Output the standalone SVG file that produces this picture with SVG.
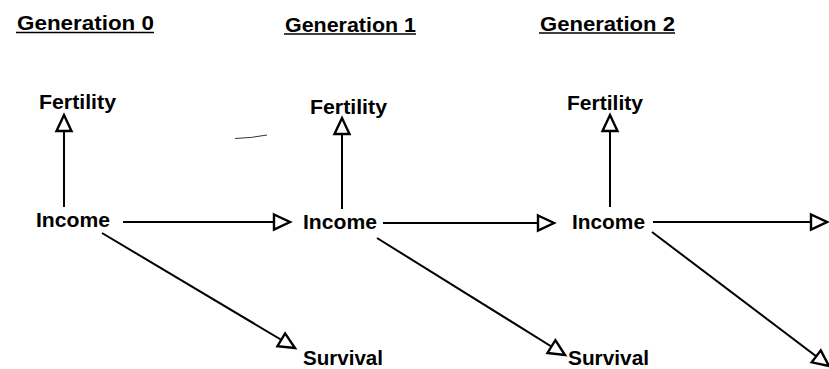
<svg xmlns="http://www.w3.org/2000/svg" width="829" height="369" viewBox="0 0 829 369">
<style>
text{font-family:"Liberation Sans",Arial,sans-serif;font-weight:bold;fill:#000}
.h{font-size:21px}
.n{font-size:20px}
.ul{stroke:#000;stroke-width:1.6}
.c{stroke:#000;stroke-width:2;fill:none}
</style>
<defs>
<marker id="ah" markerUnits="userSpaceOnUse" markerWidth="24" markerHeight="24" refX="19" refY="10" orient="auto">
<path d="M3,2.5 L19,10 L3,17.5 Z" fill="#fff" stroke="#000" stroke-width="2.4" stroke-linejoin="miter"/>
</marker>
</defs>
<rect width="829" height="369" fill="#fff"/>
<g id="headings">
<g id="gen0"><text class="h" x="17" y="30" textLength="137" lengthAdjust="spacingAndGlyphs">Generation 0</text><line class="ul" x1="16" y1="32.5" x2="154" y2="32.5"/></g>
<g id="gen1"><text class="h" x="285" y="31.5" textLength="131" lengthAdjust="spacingAndGlyphs">Generation 1</text><line class="ul" x1="284" y1="34" x2="416" y2="34"/></g>
<g id="gen2"><text class="h" x="540" y="31" textLength="135" lengthAdjust="spacingAndGlyphs">Generation 2</text><line class="ul" x1="539" y1="33" x2="675" y2="33"/></g>
</g>
<g id="fertility0"><text class="n" x="39" y="109" textLength="77" lengthAdjust="spacingAndGlyphs">Fertility</text></g>
<g id="fertility1"><text class="n" x="310" y="114" textLength="77" lengthAdjust="spacingAndGlyphs">Fertility</text></g>
<g id="fertility2"><text class="n" x="567" y="110" textLength="76" lengthAdjust="spacingAndGlyphs">Fertility</text></g>
<g id="income0"><text class="n" x="36" y="227" textLength="74" lengthAdjust="spacingAndGlyphs">Income</text></g>
<g id="income1"><text class="n" x="303" y="229" textLength="74" lengthAdjust="spacingAndGlyphs">Income</text></g>
<g id="income2"><text class="n" x="572" y="229" textLength="73" lengthAdjust="spacingAndGlyphs">Income</text></g>
<g id="survival0"><text class="n" x="303" y="365" textLength="80" lengthAdjust="spacingAndGlyphs">Survival</text></g>
<g id="survival1"><text class="n" x="568" y="365" textLength="81" lengthAdjust="spacingAndGlyphs">Survival</text></g>
<g id="connectors">
<line class="c" x1="64" y1="207" x2="64" y2="115" marker-end="url(#ah)"/>
<line class="c" x1="342" y1="209" x2="342" y2="118" marker-end="url(#ah)"/>
<line class="c" x1="610" y1="207" x2="610" y2="115" marker-end="url(#ah)"/>
<line class="c" x1="123" y1="222" x2="290" y2="222" marker-end="url(#ah)"/>
<line class="c" x1="383" y1="223" x2="554" y2="223" marker-end="url(#ah)"/>
<line class="c" x1="653" y1="222" x2="827" y2="222" marker-end="url(#ah)"/>
<line class="c" x1="102" y1="233" x2="295" y2="348" marker-end="url(#ah)"/>
<line class="c" x1="377" y1="238" x2="565" y2="355" marker-end="url(#ah)"/>
<line class="c" x1="652" y1="232" x2="829" y2="366" marker-end="url(#ah)"/>
</g>
<path d="M235,138.5 Q252,138 267,135" stroke="#333" stroke-width="1" fill="none"/>
</svg>
